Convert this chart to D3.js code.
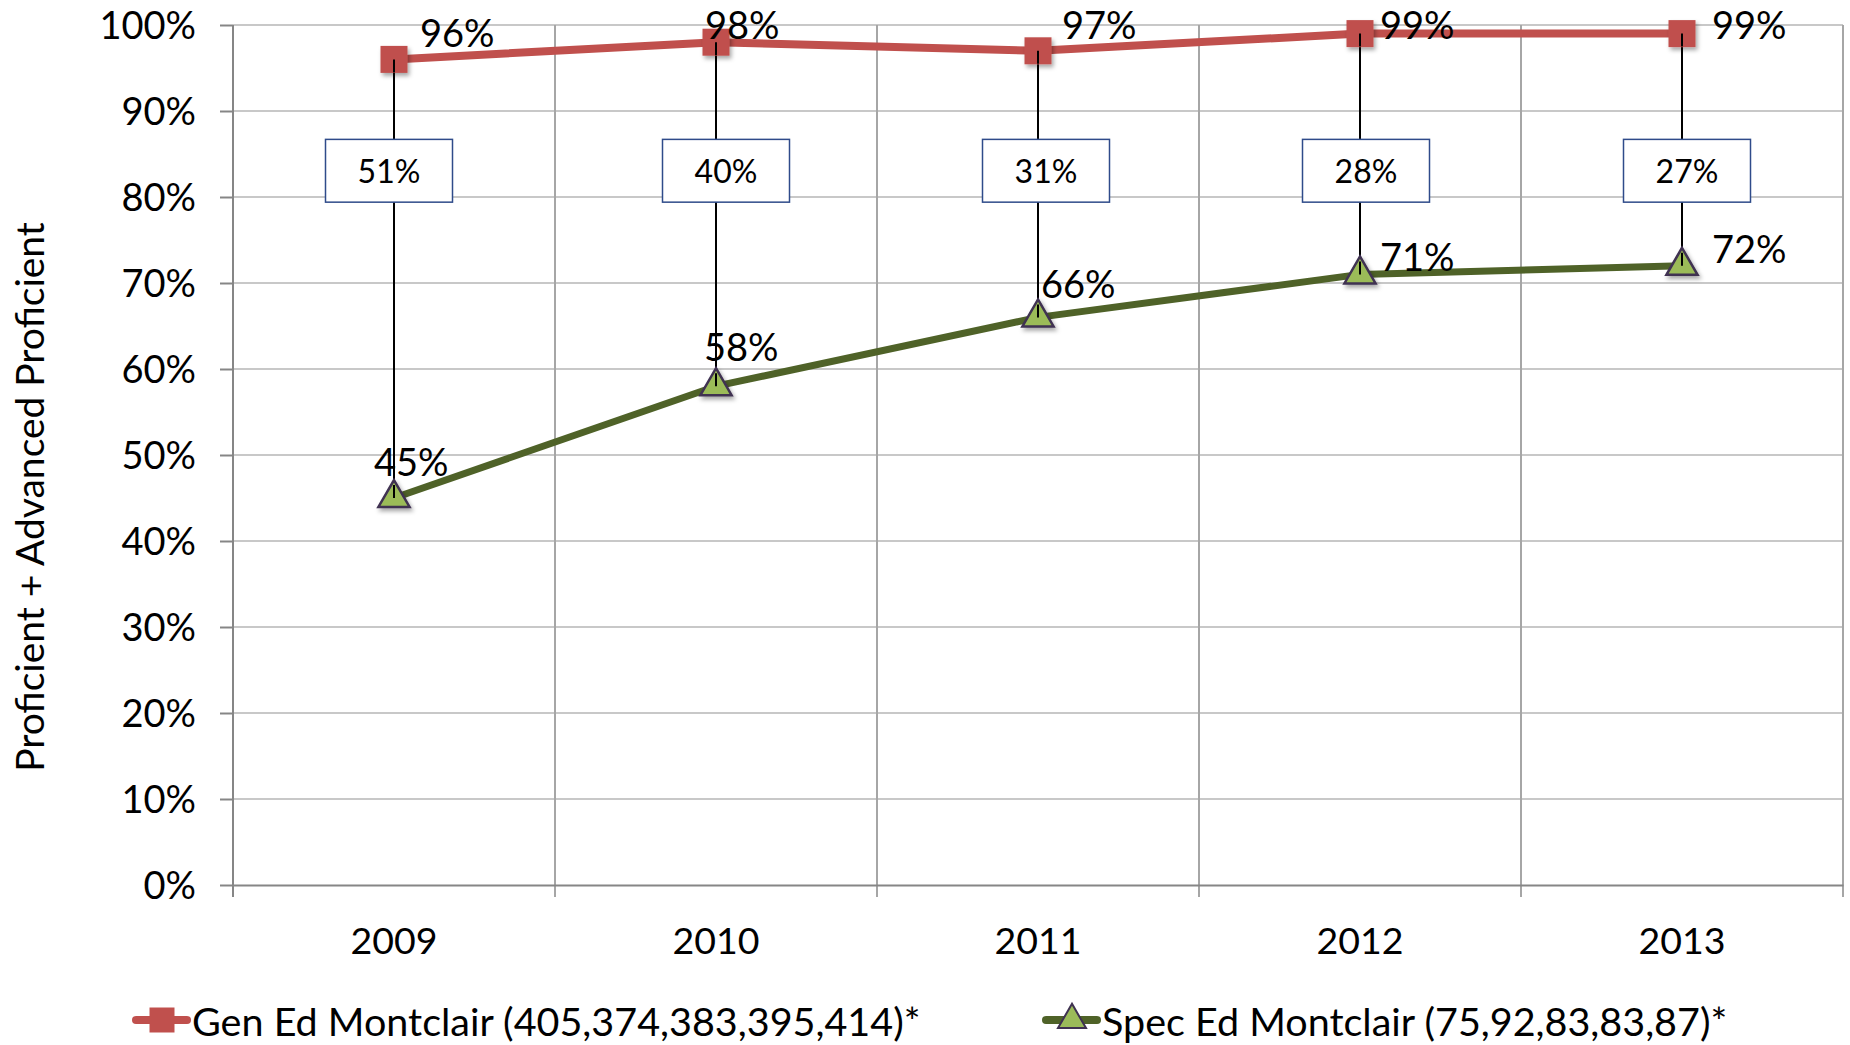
<!DOCTYPE html>
<html lang="en">
<head>
<meta charset="UTF-8">
<title>Proficient + Advanced Proficient</title>
<script src="https://d3js.org/d3.v7.min.js"></script>
<style>
  body { margin: 0; background: #fff; }
  svg text { font-family: Lato, "Open Sans", sans-serif; fill: #000; }
</style>
</head>
<body>
<script>
// Data
const years = ["2009", "2010", "2011", "2012", "2013"];
const genEd = [96, 98, 97, 99, 99];
const specEd = [45, 58, 66, 71, 72];
const gaps = [51, 40, 31, 28, 27];
const yTicks = [0, 10, 20, 30, 40, 50, 60, 70, 80, 90, 100];
const seriesNames = ["Gen Ed Montclair (405,374,383,395,414)*", "Spec Ed Montclair (75,92,83,83,87)*"];

// Layout
const W = 1850, H = 1045;
const margin = { top: 25, right: 7, bottom: 160, left: 233 };
const width = W - margin.left - margin.right;
const height = H - margin.top - margin.bottom;
const genColor = "#C0504D", specLine = "#4F6228", specFill = "#9BBB59", specEdge = "#3F3151";
// manual nudges of the data labels (px from the marker: label left edge / vertical centre)
const genLabelOffset = [[26, -27], [-11, -18], [24, -27], [20, -10], [30, -10]];
const specLabelOffset = [[-20, -37], [-12, -40], [3, -34], [20, -18], [30, -18]];
// gap boxes: value range they cover, width, horizontal nudge
const gapBoxRange = [79.4, 86.7], gapBoxWidth = 127;
const gapBoxNudge = [-5, 10, 8, 6, 5];

const svg = d3.select("body").append("svg")
    .attr("width", W)
    .attr("height", H);

const defs = svg.append("defs");
defs.append("filter").attr("id", "shadow")
    .attr("x", "-50%").attr("y", "-50%").attr("width", "200%").attr("height", "200%")
  .append("feDropShadow")
    .attr("dx", 2).attr("dy", 3).attr("stdDeviation", 2)
    .attr("flood-color", "#000").attr("flood-opacity", 0.35);

const g = svg.append("g").attr("transform", `translate(${margin.left},${margin.top})`);

// Scales
const x = d3.scaleBand().domain(years).range([0, width]).padding(0);
const y = d3.scaleLinear().domain([0, 100]).range([height, 0]);
const cx = d => x(d) + x.bandwidth() / 2;

// Horizontal gridlines
g.append("g")
  .selectAll("line")
  .data(yTicks.filter(d => d > 0))
  .join("line")
    .attr("x1", 0).attr("x2", width)
    .attr("y1", d => y(d)).attr("y2", d => y(d))
    .attr("stroke", "#C8C8C8").attr("stroke-width", 2);

// Vertical gridlines at category boundaries (with tick marks below)
const edges = years.map(d => x(d)).concat([width]);
g.append("g")
  .selectAll("line")
  .data(edges.slice(1))
  .join("line")
    .attr("x1", d => d).attr("x2", d => d)
    .attr("y1", 0).attr("y2", height + 12)
    .attr("stroke", "#A6A6A6").attr("stroke-width", 2);

// Y axis
const yAxis = g.append("g")
    .call(d3.axisLeft(y).tickValues(yTicks).tickFormat(d => d + "%").tickSize(13).tickPadding(24));
yAxis.select(".domain").remove();
yAxis.selectAll(".tick line").attr("stroke", "#868686").attr("stroke-width", 2);
yAxis.selectAll(".tick text").attr("font-size", 38).attr("fill", "#000").attr("dy", "0.35em")
    .attr("font-family", "Lato, 'Open Sans', sans-serif");
g.append("line")
    .attr("x1", 0).attr("x2", 0).attr("y1", 0).attr("y2", height + 12)
    .attr("stroke", "#868686").attr("stroke-width", 2);

// X axis
const xAxis = g.append("g")
    .attr("transform", `translate(0,${height})`)
    .call(d3.axisBottom(x).tickSize(0).tickPadding(42));
xAxis.select(".domain").attr("stroke", "#868686").attr("stroke-width", 2);
xAxis.selectAll(".tick text").attr("font-size", 37.5).attr("fill", "#000")
    .attr("font-family", "Lato, 'Open Sans', sans-serif");

// Y axis title
svg.append("text")
    .attr("transform", `translate(44,497) rotate(-90)`)
    .attr("text-anchor", "middle")
    .attr("font-size", 39)
    .text("Proficient + Advanced Proficient");

// Drop lines between the two series
g.append("g")
  .selectAll("line")
  .data(years)
  .join("line")
    .attr("x1", d => cx(d)).attr("x2", d => cx(d))
    .attr("y1", (d, i) => y(genEd[i])).attr("y2", (d, i) => y(specEd[i]))
    .attr("stroke", "#000").attr("stroke-width", 2);

// Gap boxes
const boxes = g.append("g")
  .selectAll("g")
  .data(years)
  .join("g")
    .attr("transform", (d, i) => `translate(${cx(d) + gapBoxNudge[i]},0)`);
boxes.append("rect")
    .attr("x", -gapBoxWidth / 2)
    .attr("y", y(gapBoxRange[1]))
    .attr("width", gapBoxWidth)
    .attr("height", y(gapBoxRange[0]) - y(gapBoxRange[1]))
    .attr("fill", "#fff").attr("stroke", "#2F4B8A").attr("stroke-width", 1.5);
boxes.append("text")
    .attr("y", (y(gapBoxRange[0]) + y(gapBoxRange[1])) / 2)
    .attr("text-anchor", "middle")
    .attr("dominant-baseline", "central")
    .attr("font-size", 32)
    .text((d, i) => gaps[i] + "%");

// Lines
const line = d3.line().x(d => cx(d[0])).y(d => y(d[1]));
g.append("path")
    .datum(years.map((d, i) => [d, genEd[i]]))
    .attr("d", line).attr("fill", "none")
    .attr("stroke", genColor).attr("stroke-width", 8).attr("stroke-linejoin", "round");
g.append("path")
    .datum(years.map((d, i) => [d, specEd[i]]))
    .attr("d", line).attr("fill", "none")
    .attr("stroke", specLine).attr("stroke-width", 7).attr("stroke-linejoin", "round");

// Markers
const square = d3.symbol(d3.symbolSquare, 27 * 27);
const triangle = d3.symbol(d3.symbolTriangle, 420);
g.append("g")
  .selectAll("path")
  .data(years)
  .join("path")
    .attr("d", square)
    .attr("transform", (d, i) => `translate(${cx(d)},${y(genEd[i])})`)
    .attr("fill", genColor)
    .attr("filter", "url(#shadow)");
g.append("g")
  .selectAll("path")
  .data(years)
  .join("path")
    .attr("d", triangle)
    .attr("transform", (d, i) => `translate(${cx(d)},${y(specEd[i])})`)
    .attr("fill", specFill).attr("stroke", specEdge).attr("stroke-width", 2.5)
    .attr("filter", "url(#shadow)");

// Drop line segments visible on top of markers (as in the reference)
g.append("g")
  .selectAll("line")
  .data(years)
  .join("line")
    .attr("x1", d => cx(d)).attr("x2", d => cx(d))
    .attr("y1", (d, i) => y(genEd[i])).attr("y2", (d, i) => y(genEd[i]) + 13)
    .attr("stroke", "#000").attr("stroke-width", 2);
g.append("g")
  .selectAll("line")
  .data(years)
  .join("line")
    .attr("x1", d => cx(d)).attr("x2", d => cx(d))
    .attr("y1", (d, i) => y(specEd[i]) - 13).attr("y2", (d, i) => y(specEd[i]))
    .attr("stroke", "#000").attr("stroke-width", 2);

// Data labels
g.append("g")
  .selectAll("text")
  .data(years)
  .join("text")
    .attr("x", (d, i) => cx(d) + genLabelOffset[i][0])
    .attr("y", (d, i) => y(genEd[i]) + genLabelOffset[i][1])
    .attr("dominant-baseline", "central")
    .attr("font-size", 38)
    .text((d, i) => genEd[i] + "%");
g.append("g")
  .selectAll("text")
  .data(years)
  .join("text")
    .attr("x", (d, i) => cx(d) + specLabelOffset[i][0])
    .attr("y", (d, i) => y(specEd[i]) + specLabelOffset[i][1])
    .attr("dominant-baseline", "central")
    .attr("font-size", 38)
    .text((d, i) => specEd[i] + "%");

// Legend
const legendItems = [
  { name: seriesNames[0], x: 132, stroke: genColor, sym: d3.symbol(d3.symbolSquare, 25 * 25), fill: genColor, edge: "none" },
  { name: seriesNames[1], x: 1042, stroke: specLine, sym: d3.symbol(d3.symbolTriangle, 340), fill: specFill, edge: specEdge }
];
const legend = svg.append("g").attr("transform", "translate(0,1020)");
const li = legend.selectAll("g").data(legendItems).join("g")
    .attr("transform", d => `translate(${d.x},0)`);
li.append("line")
    .attr("x1", 4).attr("x2", 55).attr("y1", 0).attr("y2", 0)
    .attr("stroke", d => d.stroke).attr("stroke-width", 8).attr("stroke-linecap", "round");
li.append("path")
    .attr("d", d => d.sym())
    .attr("transform", "translate(30,0)")
    .attr("fill", d => d.fill).attr("stroke", d => d.edge).attr("stroke-width", 2);
li.append("text")
    .attr("x", 60)
    .attr("dominant-baseline", "central")
    .attr("font-size", 39.5)
    .text(d => d.name);
</script>
</body>
</html>
